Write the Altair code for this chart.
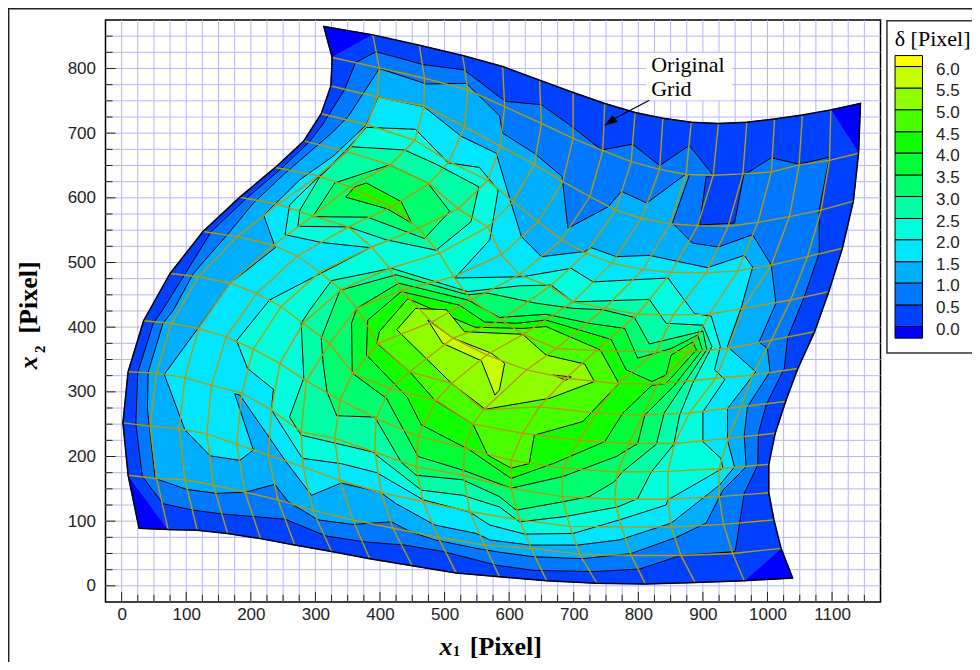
import altair as alt
import pandas as pd

# ---- surface outline and contour-level regions, in pixel-axis data units (x1, x2)
outline = [(313,865),(389,852),(461,836),(528,820),(590,803),(647,782),(699,763),(748,746),(795,732),(838,723),(882,717),(924,715),(968,717),(1011,722),(1054,728),(1098,736),(1144,746),(1141,669),(1133,595),(1116,522),(1095,455),(1073,393),(1047,336),(1028,285),(1012,236),(1002,188),(1002,144),(1010,102),(1021,58),(1039,12),(964,8),(888,5),(811,3),(736,4),(658,8),(585,14),(518,20),(450,31),(384,42),(325,53),(268,63),(215,73),(164,81),(117,86),(72,87),(27,89),(10,171),(2,252),(10,331),(34,410),(75,483),(126,548),(183,601),(238,647),(282,688),(309,730),(324,773),(326,817)]
corner_tl = [(313,865),(389,852),(326,817)]
corner_tr = [(1098,736),(1144,746),(1141,669)]
corner_br = [(1021,58),(1039,12),(964,8)]
corner_bl = [(10,171),(27,89),(72,87)]
lvl2 = [(394,826),(467,806),(530,798),(585,756),(596,749),(650,744),(699,709),(743,674),(791,683),(833,650),(879,681),(916,635),(905,633),(895,558),(949,561),(963,635),(1006,662),(1049,652),(1096,663),(1080,581),(1080,514),(1057,447),(1031,383),(1026,336),(998,280),(986,236),(985,187),(964,143),(950,53),(866,47),(802,26),(730,22),(637,24),(580,32),(498,53),(438,63),(376,68),(317,77),(253,103),(206,107),(157,111),(111,117),(64,127),(32,169),(22,251),(25,330),(49,406),(63,426),(139,548),(193,599),(248,646),(291,687),(311,713),(345,767),(362,809)]
lvl3 = [(399,800),(472,776),(534,777),(585,727),(590,700),(639,669),(682,633),(691,553),(753,586),(774,610),(813,592),(874,637),(879,635),(853,561),(884,530),(924,524),(977,543),(1006,496),(1013,437),(987,377),(1000,367),(1004,331),(969,277),(964,233),(967,184),(931,148),(905,97),(859,75),(789,50),(714,42),(637,45),(585,52),(549,58),(485,71),(446,84),(418,99),(358,95),(304,102),(258,130),(237,157),(193,145),(147,143),(101,149),(52,166),(40,272),(41,330),(64,406),(80,426),(111,483),(168,548),(204,592),(253,638),(325,700),(351,726)]
lvl4 = [(168,468),(238,523),(220,573),(276,628),(327,664),(379,713),(397,756),(468,741),(526,695),(580,669),(603,592),(619,540),(650,509),(717,517),(727,523),(766,509),(817,511),(907,492),(964,511),(977,493),(959,429),(938,370),(982,331),(938,274),(938,225),(949,184),(926,156),(851,97),(771,71),(706,63),(632,63),(570,71),(549,81),(485,94),(425,127),(400,145),(340,159),(294,140),(253,194),(183,295),(175,297),(204,210),(183,194),(137,201),(98,241),(66,327),(118,398)]
lvl5 = [(229,442),(385,523),(309,531),(253,543),(260,589),(348,674),(379,709),(455,706),(506,654),(554,647),(583,612),(570,535),(516,476),(621,478),(696,491),(730,470),(846,476),(887,421),(913,417),(927,370),(918,334),(934,319),(900,269),(900,223),(928,197),(931,182),(846,133),(843,125),(771,102),(699,81),(624,80),(570,94),(539,114),(467,133),(395,175),(340,189),(281,197),(278,200),(232,272),(235,304),(195,336),(178,379)]
lvl6_main = [(291,426),(325,472),(418,491),(536,455),(616,464),(665,465),(699,439),(817,443),(843,406),(900,403),(914,370),(884,313),(864,264),(855,219),(820,176),(799,135),(768,122),(686,107),(616,99),(585,122),(528,140),(464,148),(392,204),(389,207),(278,233),(260,261),(282,321),(278,406)]
lvl6_upper = [(273,556),(351,555),(410,535),(487,519),(541,563),(553,617),(487,652),(438,674),(356,679),(307,633),(276,581)]
lvl7_main = [(338,457),(425,481),(536,450),(565,453),(642,437),(699,429),(745,427),(794,415),(817,374),(900,394),(906,365),(869,310),(840,267),(828,219),(775,176),(763,161),(724,138),(683,130),(611,117),(585,138),(528,164),(456,171),(433,191),(392,261),(333,263),(318,300),(312,344),(309,383)]
lvl7_upper = [(296,571),(381,570),(469,537),(508,579),(474,623),(415,651),(330,623)]
lvl8_main = [(364,429),(429,468),(536,442),(585,415),(657,420),(724,406),(779,398),(799,352),(851,367),(892,388),(899,365),(856,310),(810,264),(799,220),(766,200),(683,169),(603,151),(528,179),(459,200),(410,290),(357,329),(356,406)]
lvl8_upper = [(347,601),(361,617),(379,623),(433,594),(449,561),(411,583)]
lvl9 = [(381,411),(433,455),(523,434),(562,408),(611,406),(657,411),(758,381),(781,334),(821,316),(843,326),(851,357),(884,377),(890,365),(843,313),(821,310),(776,267),(748,223),(668,189),(603,166),(539,210),(464,249),(442,292),(379,357)]
lvl10 = [(399,393),(443,444),(547,400),(621,398),(657,401),(741,365),(770,313),(714,254),(639,233),(631,189),(603,182),(567,202),(544,250),(485,287),(446,331),(395,375)]
lvl11 = [(455,429),(503,427),(531,393),(621,389),(657,357),(717,343),(732,316),(663,290),(563,273),(511,313),(426,396)]
lvl12 = [(474,411),(513,383),(572,360),(593,344),(585,303),(578,295),(557,348),(497,375)]
lvl12_islet = [(668,326),(696,323),(688,318)]

# ---- original grid: each row runs from left to right edge, top row first
row_top = [(313,865),(389,852),(461,836),(528,820),(590,803),(647,782),(699,763),(748,746),(795,732),(838,723),(882,717),(924,715),(968,717),(1011,722),(1054,728),(1098,736),(1144,746)]
row12 = [(326,817),(399,801),(469,785),(536,767),(593,741),(650,715),(699,692),(745,673),(789,656),(833,644),(874,636),(916,635),(962,637),(1006,640),(1049,651),(1096,658),(1141,669)]
row11 = [(324,773),(396,756),(468,742),(531,710),(586,680),(639,652),(683,625),(725,602),(765,581),(805,568),(849,560),(892,557),(939,556),(985,562),(1034,571),(1083,581),(1133,595)]
row10 = [(309,730),(380,713),(454,689),(507,656),(567,627),(606,594),(645,563),(681,535),(719,514),(759,499),(807,489),(851,485),(905,484),(954,487),(1006,496),(1062,509),(1116,522)]
row9 = [(282,688),(349,671),(416,651),(476,622),(521,583),(567,555),(588,512),(616,481),(663,463),(699,439),(748,429),(799,420),(854,419),(910,420),(962,429),(1036,442),(1095,455)]
row8 = [(238,647),(304,634),(353,617),(418,586),(460,553),(492,514),(514,478),(541,442),(588,411),(622,389),(673,367),(735,364),(828,362),(879,362),(939,367),(1006,380),(1073,393)]
row7 = [(183,601),(242,590),(296,572),(351,555),(387,524),(415,491),(433,457),(480,408),(513,383),(565,357),(627,334),(688,321),(768,313),(830,312),(920,321),(977,326),(1047,336)]
row6 = [(126,548),(179,540),(235,527),(272,510),(307,485),(340,458),(364,429),(397,375),(446,331),(511,313),(560,272),(647,277),(735,267),(807,264),(879,267),(959,277),(1028,285)]
row5 = [(75,483),(119,478),(168,468),(209,452),(247,432),(281,406),(322,375),(358,329),(415,305),(487,287),(544,250),(621,236),(709,225),(786,220),(856,220),(939,228),(1012,236)]
row4 = [(34,410),(77,406),(119,398),(162,385),(204,366),(245,344),(286,317),(338,287),(394,259),(459,231),(531,213),(603,194),(683,182),(768,176),(846,177),(925,181),(1002,188)]
row3 = [(10,331),(54,329),(98,322),(139,310),(186,298),(232,272),(278,238),(330,228),(392,207),(456,184),(529,171),(603,151),(682,138),(763,134),(846,134),(925,138),(1002,144)]
row2 = [(2,252),(44,247),(89,243),(132,235),(178,219),(227,202),(281,184),(338,163),(402,144),(467,130),(539,115),(616,102),(694,92),(774,91),(851,91),(932,95),(1010,102)]
row1 = [(10,171),(54,166),(98,164),(142,156),(191,145),(242,133),(296,117),(358,102),(420,89),(490,75),(562,63),(634,58),(709,49),(789,47),(866,47),(946,50),(1021,58)]
row_bottom = [(27,89),(72,87),(117,86),(164,81),(215,73),(268,63),(325,53),(384,42),(450,31),(518,20),(585,14),(658,8),(736,4),(811,3),(888,5),(964,8),(1039,12)]

# ---- legend
legend_levels = ["6.0","5.5","5.0","4.5","4.0","3.5","3.0","2.5","2.0","1.5","1.0","0.5","0.0"]
legend_edges = [820,803,769.5,736,702,669,635,602,568,535,501,468,434,401,383]
band_colors = ["#ffff00","#c8ff00","#8fff00","#48ff00","#11ff00","#00ff37","#00ff6e","#00ffa6","#00ffdd","#00e6ff","#00aeff","#0078ff","#0040ff","#0000ff"]
C = dict(zip(range(14), band_colors[::-1]))

x_ticks = list(range(0, 1101, 100))
y_ticks = list(range(0, 801, 100))
x_grid = list(range(0, 1151, 25))
y_grid = list(range(0, 851, 25))

SANS, SERIF = "Liberation Sans", "Liberation Serif"
sx = alt.Scale(domain=[-25, 1175], nice=False, zero=False)
sy = alt.Scale(domain=[-25, 875], nice=False, zero=False)
ax = alt.Axis(values=x_ticks, grid=False, ticks=False, domain=False, labelFont=SANS, labelFontSize=17, labelColor="#222", labelPadding=4, format="d", labelOverlap=False, zindex=1)
ay = alt.Axis(values=y_ticks, grid=False, ticks=False, domain=False, labelFont=SANS, labelFontSize=17, labelColor="#222", labelPadding=10, format="d", labelOverlap=False, zindex=1)
X = alt.X("x:Q", scale=sx, title=None, axis=ax)
Y = alt.Y("y:Q", scale=sy, title=None, axis=ay)


def df_pts(pts):
    return pd.DataFrame({"x": [p[0] for p in pts], "y": [p[1] for p in pts], "i": list(range(len(pts)))})


def poly(pts, fill, stroke="black", sw=1.0):
    return alt.Chart(df_pts(pts)).mark_line(interpolate="linear-closed", fill=fill, stroke=stroke, strokeWidth=sw).encode(x=X, y=Y, order="i:Q")


def text(t, x, y, font=SANS, size=17, **kw):
    return alt.Chart(pd.DataFrame({"x": [x], "y": [y], "t": [t]})).mark_text(font=font, fontSize=size, align="left", baseline="middle", color="black", **kw).encode(x=X, y=Y, text="t:N")


def rect(x, x2, y, y2, **kw):
    d = pd.DataFrame({"x": [x], "x2": [x2], "y": [y], "y2": [y2]})
    return alt.Chart(d).mark_rect(**kw).encode(x=X, x2="x2:Q", y=Y, y2="y2:Q")


layers = []
# page frame (open on the right and the bottom, as in the picture)
layers.append(rect(-175, 1360, -160, 892.5, fill="transparent", stroke="#222", strokeWidth=1.6))
# gridlines
layers.append(alt.Chart(pd.DataFrame({"x": x_grid})).mark_rule(stroke="#b4b4ff", strokeWidth=1).encode(x=X))
layers.append(alt.Chart(pd.DataFrame({"y": y_grid})).mark_rule(stroke="#b4b4ff", strokeWidth=1).encode(y=Y))

# inward ticks
xt = pd.DataFrame({"x": x_grid, "y": [-25] * len(x_grid), "y2": [-9.5 if v % 100 == 0 else -14 for v in x_grid]})
yt = pd.DataFrame({"y": y_grid, "x": [-25] * len(y_grid), "x2": [-9.5 if v % 100 == 0 else -14 for v in y_grid]})
layers.append(alt.Chart(xt).mark_rule(stroke="#222", strokeWidth=1).encode(x=X, y=Y, y2="y2:Q"))
layers.append(alt.Chart(yt).mark_rule(stroke="#222", strokeWidth=1).encode(x=X, x2="x2:Q", y=Y))

# annotation box
layers.append(rect(812, 945, 751, 824, fill="white"))

# contour bands
layers.append(poly(outline, C[1], stroke=C[1]))
for pts in [corner_tl, corner_tr, corner_br, corner_bl]:
    layers.append(poly(pts, C[0], stroke="#3050ff", sw=0.6))
for pts, i in [(lvl2, 2), (lvl3, 3), (lvl4, 4), (lvl5, 5), (lvl6_main, 6), (lvl6_upper, 6), (lvl7_main, 7), (lvl7_upper, 7), (lvl8_main, 8), (lvl8_upper, 9), (lvl9, 9), (lvl10, 10), (lvl11, 11), (lvl12, 12), (lvl12_islet, 12)]:
    layers.append(poly(pts, C[i]))

# original grid
rows = [row_top, row12, row11, row10, row9, row8, row7, row6, row5, row4, row3, row2, row1, row_bottom]
recs = []
for r, row in enumerate(rows[1:-1]):
    for i, (x, y) in enumerate(row):
        recs.append({"x": x, "y": y, "i": i, "g": f"h{r}"})
for c in range(1, 16):
    for i, row in enumerate(rows):
        recs.append({"x": row[c][0], "y": row[c][1], "i": i, "g": f"v{c}"})
layers.append(alt.Chart(pd.DataFrame(recs)).mark_line(stroke="#b39b0a", strokeWidth=1.4).encode(x=X, y=Y, detail="g:N", order="i:Q"))

# outline
layers.append(alt.Chart(df_pts(outline)).mark_line(interpolate="linear-closed", stroke="black", strokeWidth=1.5).encode(x=X, y=Y, order="i:Q"))

# arrow + annotation
layers.append(alt.Chart(df_pts([(817, 751), (762, 722)])).mark_line(stroke="black", strokeWidth=1.2).encode(x=X, y=Y, order="i:Q"))
layers.append(poly([(748, 712), (768, 718), (760, 727)], "black", sw=0.5))
layers.append(text("Original", 820, 805, SERIF, 22))
layers.append(text("Grid", 820, 769, SERIF, 22))

# legend
layers.append(rect(1185, 1360, 360, 874, fill="white", stroke="#333", strokeWidth=1.5))
sw = pd.DataFrame({"x": [1197.5] * 14, "x2": [1240] * 14, "y": legend_edges[1:], "y2": legend_edges[:-1], "c": band_colors})
layers.append(alt.Chart(sw).mark_rect(stroke="black", strokeWidth=1).encode(x=X, x2="x2:Q", y=Y, y2="y2:Q", fill=alt.Fill("c:N", scale=None)))
lab = pd.DataFrame({"x": [1261] * 13, "y": [e - 5 for e in legend_edges[1:-1]], "t": legend_levels})
layers.append(alt.Chart(lab).mark_text(font=SANS, fontSize=17, align="left", baseline="middle", color="#222").encode(x=X, y=Y, text="t:N"))
layers.append(text("\u03b4 [Pixel]", 1197, 845, SERIF, 22))

# axis titles
layers.append(text("x", 492, -94, SERIF, 26, fontWeight="bold", fontStyle="italic"))
layers.append(text("1", 513, -102, SERIF, 14, fontWeight="bold"))
layers.append(text("[Pixel]", 539, -94, SERIF, 26, fontWeight="bold"))
layers.append(text("x", -143, 335, SERIF, 26, fontWeight="bold", fontStyle="italic", angle=270))
layers.append(text("2", -127, 360, SERIF, 15, fontWeight="bold", angle=270))
layers.append(text("[Pixel]", -143, 390, SERIF, 26, fontWeight="bold", angle=270))

chart = alt.layer(*layers).properties(
    width=775, height=582,
    padding={"left": 97.5, "top": 12, "right": 91.5, "bottom": 60},
    autosize=alt.AutoSizeParams(type="none"),
    background="white",
).configure_view(stroke="black", strokeWidth=1.5)

chart.save("out.html", embed_options={"renderer": "svg", "actions": False})
